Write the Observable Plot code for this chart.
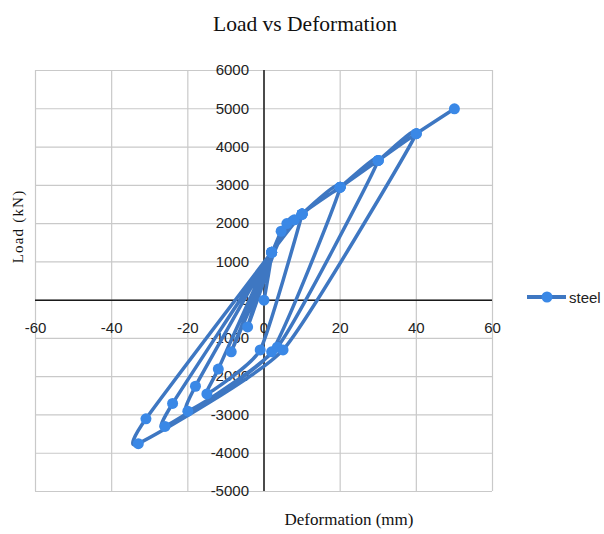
<!DOCTYPE html>
<html>
<head>
<meta charset="utf-8">
<script src="https://cdn.jsdelivr.net/npm/d3@7"></script>
<script src="https://cdn.jsdelivr.net/npm/@observablehq/plot@0.6"></script>
<style>
  html, body { margin: 0; padding: 0; background: #fff; }
  #wrap { position: relative; width: 604px; height: 534px; overflow: hidden; }
  #chart { position: absolute; left: 0; top: 0; }
  .title { position: absolute; left: 0; width: 610px; text-align: center; top: 12px;
           font-family: "Liberation Serif", "DejaVu Serif", serif; font-size: 21.5px; color: #111; }
  .xtitle { position: absolute; left: 274px; width: 150px; text-align: center; top: 510px;
            font-family: "Liberation Serif", serif; font-size: 17px; color: #111; }
  .ytitle { position: absolute; left: -32px; top: 218px; width: 100px; text-align: center;
            transform: rotate(-90deg); font-family: "Liberation Serif", serif; font-size: 15px;
            letter-spacing: 1.2px; color: #111; }
  .legend { position: absolute; left: 526px; top: 287px; display: flex; align-items: center;
            font-family: "Liberation Sans", Arial, sans-serif; font-size: 15px; color: #222; }
</style>
</head>
<body>
<div id="wrap">
  <div id="chart"></div>
  <div class="title">Load vs Deformation</div>
  <div class="ytitle">Load (kN)</div>
  <div class="xtitle">Deformation (mm)</div>
  <div class="legend" id="legend"></div>
</div>
<script>
// Tick labels
const xTicks = [-60, -40, -20, 0, 20, 40, 60];
const yTicks = [-5000, -4000, -3000, -2000, -1000, 0, 1000, 2000, 3000, 4000, 5000, 6000];

// Series "steel": deformation (mm) and load (kN), in drawing order
const seriesName = "steel";
const deformation = [0, 2, -4.3, 4.5, -8.6, 6, 8, 10, -1, -15, -12, 2, 10, 20, 2, -20, -18, 2, 10, 20, 30, 3.5, -26, -24, 2, 10, 20, 30, 40, 5, -33, -31, 2, 10, 20, 30, 40, 50];
const load = [0, 1250, -700, 1800, -1350, 2000, 2100, 2250, -1300, -2450, -1800, 1250, 2250, 2950, -1350, -2900, -2250, 1250, 2250, 2950, 3650, -1230, -3300, -2700, 1250, 2250, 2950, 3650, 4350, -1300, -3750, -3100, 1250, 2250, 2950, 3650, 4350, 5000];

const data = deformation.map((d, i) => ({x: d, y: load[i]}));

const lineColor = "#3e77c2";
const dotColor = "#3a88e6";
const tickFont = "'Liberation Sans', Arial, sans-serif";

const chart = Plot.plot({
  width: 604,
  height: 534,
  marginTop: 70,
  marginBottom: 43,
  marginLeft: 35,
  marginRight: 112,
  x: {domain: [-60, 60], axis: null},
  y: {domain: [-5000, 6000], axis: null},
  marks: [
    Plot.gridX(xTicks, {stroke: "#c9c9c9", strokeOpacity: 1, strokeWidth: 1.2}),
    Plot.gridY(yTicks, {stroke: "#c9c9c9", strokeOpacity: 1, strokeWidth: 1.2}),
    Plot.ruleX([0], {stroke: "#1a1a1a", strokeWidth: 1.5}),
    Plot.ruleY([0], {stroke: "#1a1a1a", strokeWidth: 1.5}),
    Plot.text(yTicks, {x: () => 0, y: d => d, text: d => String(d), textAnchor: "end", dx: -15,
      fontSize: 15, fontFamily: tickFont, fill: "#222"}),
    Plot.text(xTicks, {x: d => d, y: () => 0, text: d => String(d), dy: 28,
      fontSize: 15, fontFamily: tickFont, fill: "#222"}),
    Plot.line(data, {x: "x", y: "y", curve: "cardinal", tension: 0.5, stroke: lineColor, strokeWidth: 3.5,
      strokeLinejoin: "round", strokeLinecap: "round"}),
    Plot.dot(data, {x: "x", y: "y", r: 5.5, fill: dotColor, stroke: "none"})
  ]
});
document.getElementById("chart").appendChild(chart);

// Legend
const lg = document.getElementById("legend");
lg.innerHTML = `<svg width="42" height="20"><line x1="1" y1="10" x2="40" y2="10" stroke="${lineColor}" stroke-width="4"/><circle cx="21" cy="10" r="5.5" fill="${dotColor}"/></svg><span style="margin-left:1px">${seriesName}</span>`;
</script>
</body>
</html>
